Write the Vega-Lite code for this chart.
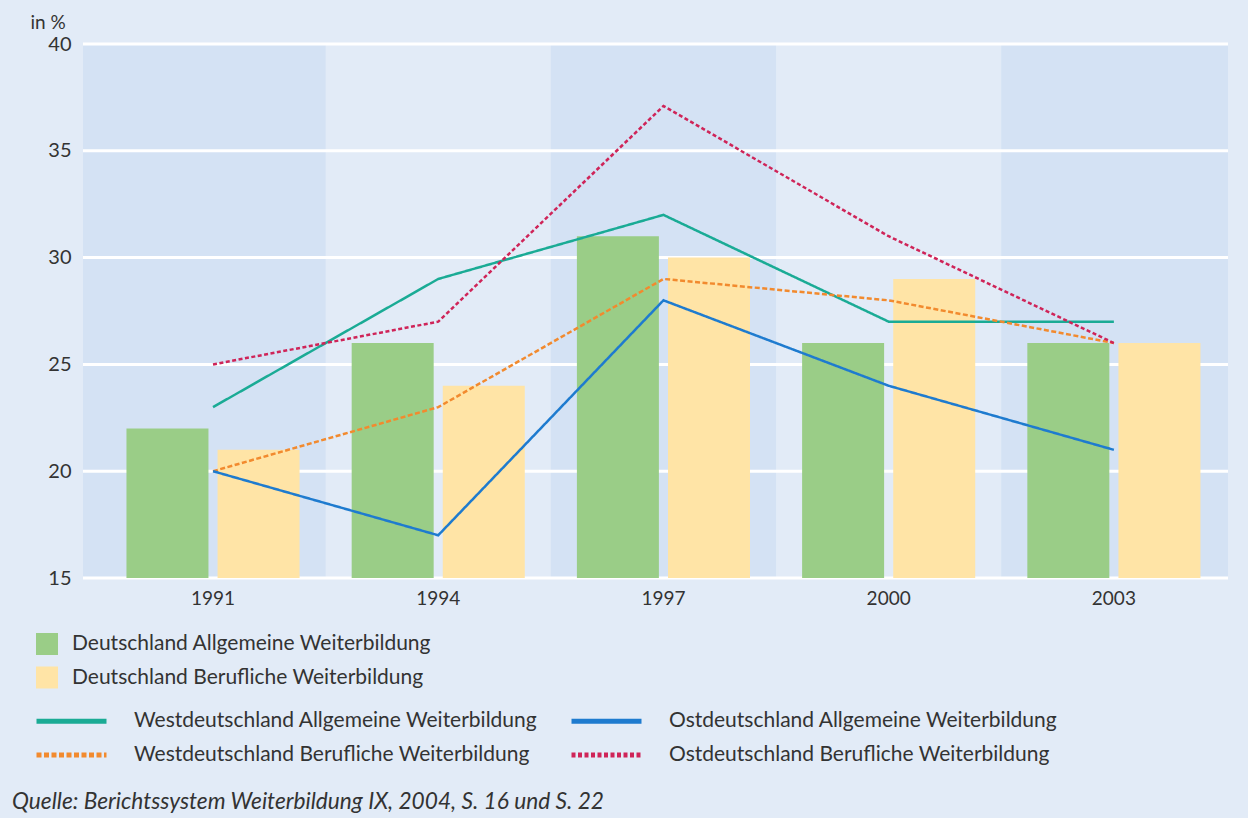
{
  "$schema": "https://vega.github.io/schema/vega-lite/v6.json",
  "width": 1145,
  "height": 534,
  "autosize": {"type": "none"},
  "padding": {"left": 83, "top": 44, "right": 20, "bottom": 240},
  "background": "#e2ebf7",
  "config": {
    "font": "Lato",
    "view": {"fill": "#d4e2f4", "stroke": null},
    "axisX": {"labelAngle": 0, "ticks": false, "domain": false, "grid": false, "labelPadding": 11, "labelFontSize": 19, "labelColor": "#333333", "labelFont": "Lato"},
    "axisY": {"ticks": false, "domain": false, "grid": false, "labelPadding": 12, "labelFontSize": 20, "labelColor": "#333333", "labelFont": "Lato", "titleAngle": 0, "titleAlign": "left", "titleBaseline": "alphabetic", "titleX": -53, "titleY": -16, "titleFontSize": 19, "titleFontWeight": "normal", "titleColor": "#333333", "titleFont": "Lato"},
    "legend": {"labelFont": "Lato", "labelFontSize": 21, "labelColor": "#333333", "labelLimit": 0}
  },
  "title": {
    "text": "Quelle: Berichtssystem Weiterbildung IX, 2004, S. 16 und S. 22",
    "orient": "bottom",
    "anchor": "start",
    "frame": "group",
    "dx": -71,
    "dy": 21,
    "fontStyle": "italic",
    "fontWeight": "normal",
    "fontSize": 22.7,
    "color": "#333333",
    "font": "Lato"
  },
  "datasets": {
    "bands": [{"year": "1994"}, {"year": "2000"}],
    "grid": [{"g": 15}, {"g": 20}, {"g": 25}, {"g": 30}, {"g": 35}, {"g": 40}],
    "bars": [
      {"year": "1991", "Reihe": "Deutschland Allgemeine Weiterbildung", "Wert": 22},
      {"year": "1994", "Reihe": "Deutschland Allgemeine Weiterbildung", "Wert": 26},
      {"year": "1997", "Reihe": "Deutschland Allgemeine Weiterbildung", "Wert": 31},
      {"year": "2000", "Reihe": "Deutschland Allgemeine Weiterbildung", "Wert": 26},
      {"year": "2003", "Reihe": "Deutschland Allgemeine Weiterbildung", "Wert": 26},
      {"year": "1991", "Reihe": "Deutschland Berufliche Weiterbildung", "Wert": 21},
      {"year": "1994", "Reihe": "Deutschland Berufliche Weiterbildung", "Wert": 24},
      {"year": "1997", "Reihe": "Deutschland Berufliche Weiterbildung", "Wert": 30},
      {"year": "2000", "Reihe": "Deutschland Berufliche Weiterbildung", "Wert": 29},
      {"year": "2003", "Reihe": "Deutschland Berufliche Weiterbildung", "Wert": 26}
    ],
    "lines": [
      {"year": "1991", "Linie": "Westdeutschland Allgemeine Weiterbildung", "Wert": 23},
      {"year": "1994", "Linie": "Westdeutschland Allgemeine Weiterbildung", "Wert": 29},
      {"year": "1997", "Linie": "Westdeutschland Allgemeine Weiterbildung", "Wert": 32},
      {"year": "2000", "Linie": "Westdeutschland Allgemeine Weiterbildung", "Wert": 27},
      {"year": "2003", "Linie": "Westdeutschland Allgemeine Weiterbildung", "Wert": 27},
      {"year": "1991", "Linie": "Westdeutschland Berufliche Weiterbildung", "Wert": 20},
      {"year": "1994", "Linie": "Westdeutschland Berufliche Weiterbildung", "Wert": 23},
      {"year": "1997", "Linie": "Westdeutschland Berufliche Weiterbildung", "Wert": 29},
      {"year": "2000", "Linie": "Westdeutschland Berufliche Weiterbildung", "Wert": 28},
      {"year": "2003", "Linie": "Westdeutschland Berufliche Weiterbildung", "Wert": 26},
      {"year": "1991", "Linie": "Ostdeutschland Allgemeine Weiterbildung", "Wert": 20},
      {"year": "1994", "Linie": "Ostdeutschland Allgemeine Weiterbildung", "Wert": 17},
      {"year": "1997", "Linie": "Ostdeutschland Allgemeine Weiterbildung", "Wert": 28},
      {"year": "2000", "Linie": "Ostdeutschland Allgemeine Weiterbildung", "Wert": 24},
      {"year": "2003", "Linie": "Ostdeutschland Allgemeine Weiterbildung", "Wert": 21},
      {"year": "1991", "Linie": "Ostdeutschland Berufliche Weiterbildung", "Wert": 25},
      {"year": "1994", "Linie": "Ostdeutschland Berufliche Weiterbildung", "Wert": 27},
      {"year": "1997", "Linie": "Ostdeutschland Berufliche Weiterbildung", "Wert": 37.1},
      {"year": "2000", "Linie": "Ostdeutschland Berufliche Weiterbildung", "Wert": 31},
      {"year": "2003", "Linie": "Ostdeutschland Berufliche Weiterbildung", "Wert": 26}
    ]
  },
  "layer": [
    {
      "data": {"name": "bands"},
      "mark": {"type": "bar", "color": "#e2ebf7"},
      "encoding": {
        "x": {"field": "year", "type": "nominal", "title": null, "scale": {"type": "band", "domain": ["1991", "1994", "1997", "2000", "2003"], "paddingInner": 0, "paddingOuter": 0.042, "align": 0.92}},
        "y": {"datum": 40, "type": "quantitative", "title": "in %", "scale": {"domain": [15, 40], "nice": false, "zero": false}, "axis": {"values": [15, 20, 25, 30, 35, 40]}},
        "y2": {"datum": 15}
      }
    },
    {
      "data": {"name": "grid"},
      "mark": {"type": "rule", "color": "#ffffff", "strokeWidth": 3},
      "encoding": {
        "y": {"field": "g", "type": "quantitative", "title": "in %"}
      }
    },
    {
      "data": {"name": "bars"},
      "mark": {"type": "bar"},
      "encoding": {
        "x": {"field": "year", "type": "nominal", "title": null},
        "xOffset": {"field": "Reihe", "type": "nominal", "scale": {"paddingInner": 0.1, "paddingOuter": 0.286}},
        "y": {"field": "Wert", "type": "quantitative", "title": "in %"},
        "y2": {"datum": 15},
        "fill": {
          "field": "Reihe", "type": "nominal",
          "scale": {"domain": ["Deutschland Allgemeine Weiterbildung", "Deutschland Berufliche Weiterbildung"], "range": ["#9acd87", "#ffe4a6"]},
          "legend": {"title": null, "orient": "none", "legendX": -47, "legendY": 589, "symbolType": "square", "symbolSize": 484, "symbolStrokeWidth": 0, "labelOffset": 14, "rowPadding": 11.5}
        }
      }
    },
    {
      "data": {"name": "lines"},
      "mark": {"type": "line", "strokeWidth": 2.5},
      "encoding": {
        "x": {"field": "year", "type": "nominal", "title": null},
        "y": {"field": "Wert", "type": "quantitative", "title": "in %"},
        "stroke": {
          "field": "Linie", "type": "nominal",
          "scale": {"domain": ["Westdeutschland Allgemeine Weiterbildung", "Westdeutschland Berufliche Weiterbildung", "Ostdeutschland Allgemeine Weiterbildung", "Ostdeutschland Berufliche Weiterbildung"], "range": ["#1aab95", "#f28a2e", "#1e7bcf", "#cf2458"]},
          "legend": {"title": null, "orient": "none", "legendX": -31, "legendY": 657.5, "columns": 2, "symbolType": "M-2.1,0H2.1", "symbolSize": 1111, "symbolStrokeWidth": 5, "labelOffset": 43, "columnPadding": 23, "rowPadding": 4}
        },
        "strokeDash": {
          "field": "Linie", "type": "nominal",
          "scale": {"domain": ["Westdeutschland Allgemeine Weiterbildung", "Westdeutschland Berufliche Weiterbildung", "Ostdeutschland Allgemeine Weiterbildung", "Ostdeutschland Berufliche Weiterbildung"], "range": [[1, 0], [5, 2.5], [1, 0], [4, 2.5]]},
          "legend": {"title": null, "orient": "none", "legendX": -31, "legendY": 657.5, "columns": 2, "symbolType": "M-2.1,0H2.1", "symbolSize": 1111, "symbolStrokeWidth": 5, "labelOffset": 43, "columnPadding": 23, "rowPadding": 4}
        }
      }
    }
  ]
}
